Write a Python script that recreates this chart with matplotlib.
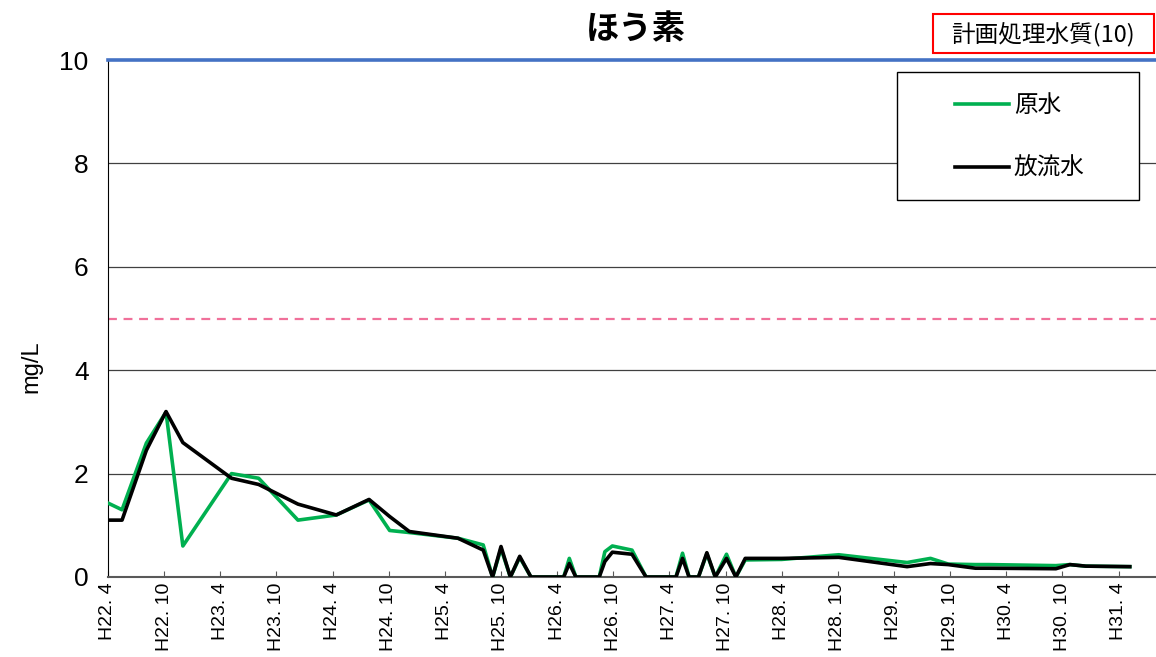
import matplotlib
matplotlib.use("Agg")
import matplotlib.pyplot as plt
from matplotlib.patches import Rectangle

plt.rcParams['font.family'] = ['Noto Sans CJK JP', 'DejaVu Sans']

# months counted from H22.4
months = [0, 1.5, 4.1, 6.2, 8.0, 13.2, 16.1, 20.3, 24.4, 27.9, 30.1, 32.2, 37.4, 40.1,
          41.1, 42.0, 43.0, 44.0, 45.2, 48.7, 49.3, 50.0, 52.5, 53.1, 53.9, 56.0, 57.5,
          60.7, 61.4, 62.1, 63.1, 64.0, 64.9, 66.1, 67.1, 68.1, 72.0, 78.1, 85.4, 87.9,
          89.8, 92.7, 94.1, 101.3, 102.8, 104.5, 109.2]
raw_water = [1.43, 1.30, 2.59, 3.19, 0.60, 2.00, 1.91, 1.10, 1.20, 1.49, 0.90, 0.86, 0.75, 0.62,
             0.00, 0.55, 0.00, 0.38, 0.00, 0.00, 0.36, 0.00, 0.00, 0.49, 0.60, 0.52, 0.00,
             0.00, 0.46, 0.00, 0.00, 0.45, 0.00, 0.44, 0.00, 0.33, 0.34, 0.43, 0.28, 0.36,
             0.25, 0.24, 0.24, 0.22, 0.24, 0.21, 0.20]
effluent = [1.10, 1.10, 2.45, 3.20, 2.60, 1.91, 1.79, 1.41, 1.20, 1.50, 1.17, 0.88, 0.75, 0.52,
            0.00, 0.59, 0.00, 0.40, 0.00, 0.00, 0.26, 0.00, 0.00, 0.30, 0.48, 0.44, 0.00,
            0.00, 0.36, 0.00, 0.00, 0.47, 0.00, 0.36, 0.00, 0.36, 0.36, 0.38, 0.20, 0.26,
            0.24, 0.17, 0.17, 0.16, 0.24, 0.21, 0.20]

tick_months = [0, 6, 12, 18, 24, 30, 36, 42, 48, 54, 60, 66, 72, 78, 84, 90, 96, 102, 108]
tick_labels = ["H22. 4", "H22. 10", "H23. 4", "H23. 10", "H24. 4", "H24. 10", "H25. 4",
               "H25. 10", "H26. 4", "H26. 10", "H27. 4", "H27. 10", "H28. 4", "H28. 10",
               "H29. 4", "H29. 10", "H30. 4", "H30. 10", "H31. 4"]
plan_quality = 10
standard = 5

W, H = 1156, 657
fig = plt.figure(figsize=(W / 100, H / 100), dpi=100)
ax = fig.add_axes([108 / W, 1 - 577 / H, (1156 - 108) / W, 517 / H])

for y in [2, 4, 6, 8]:
    ax.axhline(y, color="#404040", lw=0.9, zorder=1)
ax.axhline(standard, color="#F0709A", lw=1.6, dashes=(4, 3), zorder=2)
ax.axhline(plan_quality, color="#4472C4", lw=2.6, zorder=3, clip_on=False)

ax.plot(months, raw_water, color="#00B050", lw=2.6, label="原水", zorder=4)
ax.plot(months, effluent, color="black", lw=2.6, label="放流水", zorder=5)

ax.set_xlim(0, 112)
ax.set_ylim(0, 10)
ax.set_yticks([0, 2, 4, 6, 8, 10])
ax.set_yticklabels(["0", "2", "4", "6", "8", "10"], family="Liberation Sans", fontsize=19)
ax.set_xticks(tick_months)
ax.set_xticklabels(tick_labels, rotation=90, family="Liberation Sans", fontsize=14)
ax.tick_params(axis="x", direction="in", length=4, color="#595959", pad=4)
ax.tick_params(axis="y", length=0, pad=14)
ax.set_ylabel("mg/L", family="Liberation Sans", fontsize=17)
ax.yaxis.set_label_coords(-0.063, 0.406)

ax.spines["top"].set_visible(False)
ax.spines["right"].set_visible(False)
ax.spines["left"].set_color("black")
ax.spines["bottom"].set_color("#595959")
ax.spines["bottom"].set_linewidth(1.5)

fig.text(636 / W, 1 - 30 / H, "ほう素", ha="center", va="center", fontsize=24, fontweight="bold")

# red box label
fig.patches.append(Rectangle((933 / W, 1 - 53 / H), (1154 - 933) / W, 39 / H,
                             transform=fig.transFigure, fill=False, edgecolor="red", lw=1.5))
fig.text(1043 / W, 1 - 34 / H, "計画処理水質(10)", ha="center", va="center", fontsize=17)

# legend box
ax.add_patch(Rectangle((897 / W, 1 - 200 / H), (1139 - 897) / W, 128 / H,
                       transform=fig.transFigure, facecolor="white",
                       edgecolor="black", lw=1.0, zorder=6, clip_on=False))
leg = ax.legend(loc="upper left", bbox_to_anchor=(943 / W, 1 - 82 / H),
                bbox_transform=fig.transFigure, frameon=False, fontsize=17,
                handlelength=2.3, handletextpad=0.2, labelspacing=1.7, borderpad=0)
leg.set_zorder(7)

fig.savefig("out.png", dpi=100)
